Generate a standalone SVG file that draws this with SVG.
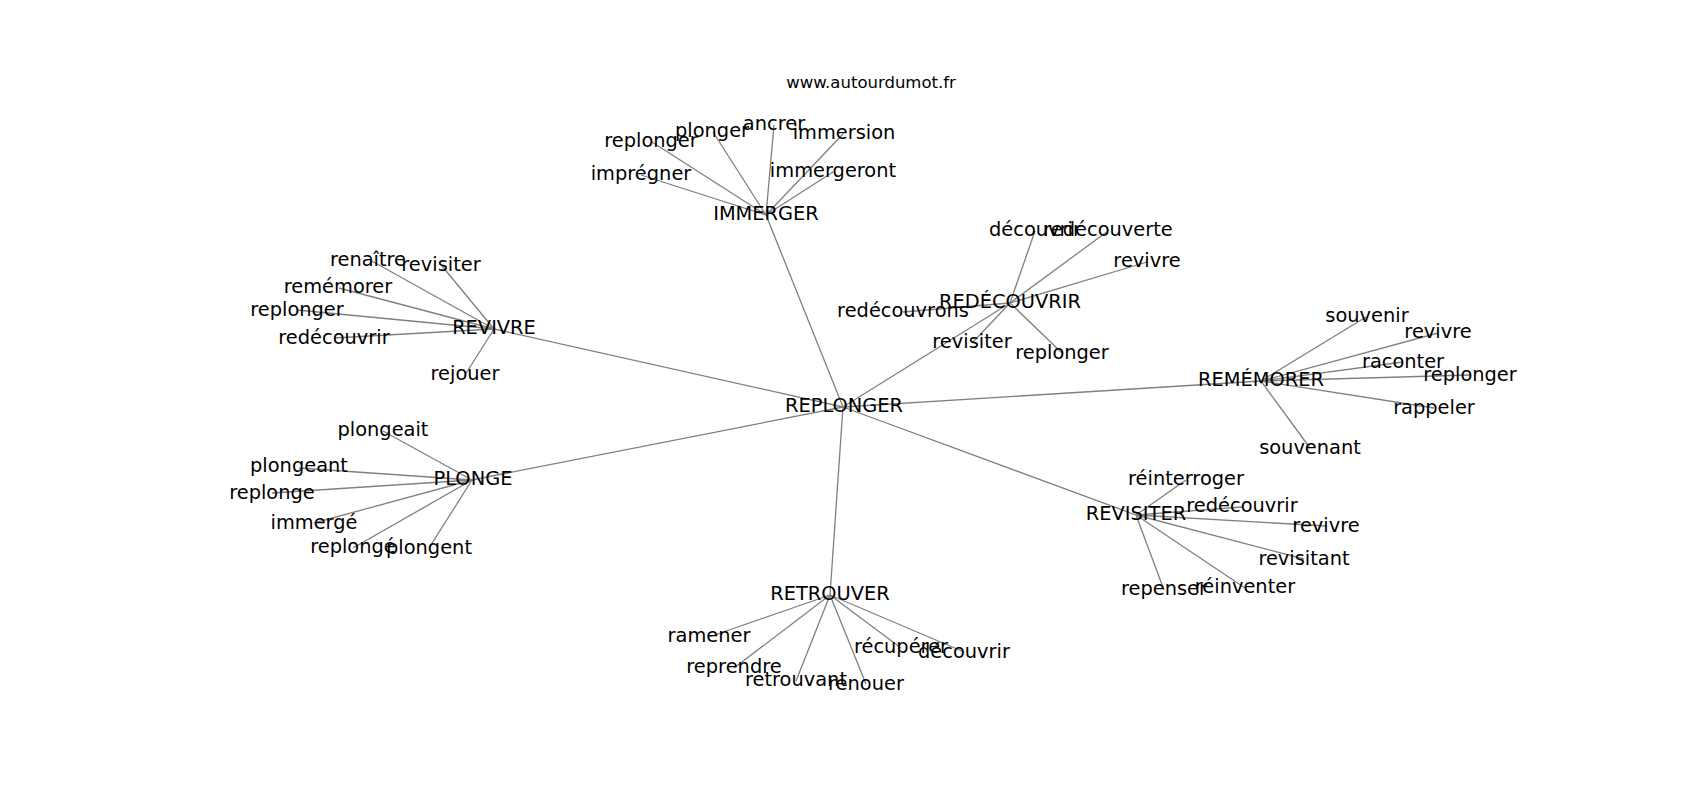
<svg xmlns="http://www.w3.org/2000/svg" width="1700" height="800" viewBox="0 0 1700 800">
<style>
.bg{fill:#ffffff}
.e line{stroke:#808080;stroke-width:1.3}
text{font-family:"DejaVu Sans","Liberation Sans",sans-serif;font-size:19.4px;fill:#000;text-anchor:middle}
.t{font-size:16.5px}
</style>
<rect class="bg" width="1700" height="800"/>
<g id="connectors" class="e">
<line x1="843" y1="407" x2="766" y2="215"/>
<line x1="843" y1="407" x2="494" y2="329"/>
<line x1="843" y1="407" x2="1010" y2="303"/>
<line x1="843" y1="407" x2="1261" y2="381"/>
<line x1="843" y1="407" x2="1136" y2="515"/>
<line x1="843" y1="407" x2="830" y2="595"/>
<line x1="843" y1="407" x2="472" y2="480"/>
<line x1="766" y1="215" x2="652" y2="142"/>
<line x1="766" y1="215" x2="713" y2="132"/>
<line x1="766" y1="215" x2="774" y2="125"/>
<line x1="766" y1="215" x2="843" y2="134"/>
<line x1="766" y1="215" x2="641" y2="175"/>
<line x1="766" y1="215" x2="833" y2="172"/>
<line x1="494" y1="329" x2="370" y2="260"/>
<line x1="494" y1="329" x2="442" y2="266"/>
<line x1="494" y1="329" x2="339" y2="288"/>
<line x1="494" y1="329" x2="297" y2="310"/>
<line x1="494" y1="329" x2="334" y2="338"/>
<line x1="494" y1="329" x2="465" y2="375"/>
<line x1="1010" y1="303" x2="1035" y2="231"/>
<line x1="1010" y1="303" x2="1108" y2="231"/>
<line x1="1010" y1="303" x2="1147" y2="262"/>
<line x1="1010" y1="303" x2="903" y2="312"/>
<line x1="1010" y1="303" x2="972" y2="343"/>
<line x1="1010" y1="303" x2="1062" y2="353"/>
<line x1="1261" y1="381" x2="1366" y2="317"/>
<line x1="1261" y1="381" x2="1438" y2="333"/>
<line x1="1261" y1="381" x2="1403" y2="362"/>
<line x1="1261" y1="381" x2="1470" y2="375"/>
<line x1="1261" y1="381" x2="1434" y2="408"/>
<line x1="1261" y1="381" x2="1310" y2="448"/>
<line x1="1136" y1="515" x2="1186" y2="480"/>
<line x1="1136" y1="515" x2="1242" y2="507"/>
<line x1="1136" y1="515" x2="1326" y2="526"/>
<line x1="1136" y1="515" x2="1304" y2="559"/>
<line x1="1136" y1="515" x2="1164" y2="590"/>
<line x1="1136" y1="515" x2="1245" y2="588"/>
<line x1="830" y1="595" x2="709" y2="637"/>
<line x1="830" y1="595" x2="734" y2="668"/>
<line x1="830" y1="595" x2="796" y2="681"/>
<line x1="830" y1="595" x2="866" y2="684"/>
<line x1="830" y1="595" x2="901" y2="648"/>
<line x1="830" y1="595" x2="964" y2="652"/>
<line x1="472" y1="480" x2="383" y2="431"/>
<line x1="472" y1="480" x2="299" y2="468"/>
<line x1="472" y1="480" x2="272" y2="493"/>
<line x1="472" y1="480" x2="314" y2="523"/>
<line x1="472" y1="480" x2="353" y2="548"/>
<line x1="472" y1="480" x2="429" y2="548"/>
</g>
<g id="title"><text class="t" x="871" y="88">www.autourdumot.fr</text></g>
<g id="n-replonger"><text x="844" y="412">REPLONGER</text></g>
<g id="n-immerger"><text x="766" y="220">IMMERGER</text></g>
<g id="n-revivre"><text x="494" y="334">REVIVRE</text></g>
<g id="n-redecouvrir"><text x="1010" y="308">REDÉCOUVRIR</text></g>
<g id="n-rememorer"><text x="1261" y="386">REMÉMORER</text></g>
<g id="n-revisiter"><text x="1136" y="520">REVISITER</text></g>
<g id="n-retrouver"><text x="830" y="600">RETROUVER</text></g>
<g id="n-plonge"><text x="473" y="485">PLONGE</text></g>
<g id="n-i-replonger"><text x="651" y="147">replonger</text></g>
<g id="n-i-plonger"><text x="712" y="137">plonger</text></g>
<g id="n-i-ancrer"><text x="774" y="130">ancrer</text></g>
<g id="n-i-immersion"><text x="844" y="139">immersion</text></g>
<g id="n-i-impregner"><text x="641" y="180">imprégner</text></g>
<g id="n-i-immergeront"><text x="833" y="177">immergeront</text></g>
<g id="n-v-renaitre"><text x="368" y="266">renaître</text></g>
<g id="n-v-revisiter"><text x="441" y="271">revisiter</text></g>
<g id="n-v-rememorer"><text x="338" y="293">remémorer</text></g>
<g id="n-v-replonger"><text x="297" y="316">replonger</text></g>
<g id="n-v-redecouvrir"><text x="334" y="344">redécouvrir</text></g>
<g id="n-v-rejouer"><text x="465" y="380">rejouer</text></g>
<g id="n-r-decouvrir"><text x="1035" y="236">découvrir</text></g>
<g id="n-r-redecouverte"><text x="1108" y="236">redécouverte</text></g>
<g id="n-r-revivre"><text x="1147" y="267">revivre</text></g>
<g id="n-r-redecouvrons"><text x="903" y="317">redécouvrons</text></g>
<g id="n-r-revisiter"><text x="972" y="348">revisiter</text></g>
<g id="n-r-replonger"><text x="1062" y="359">replonger</text></g>
<g id="n-m-souvenir"><text x="1367" y="322">souvenir</text></g>
<g id="n-m-revivre"><text x="1438" y="338">revivre</text></g>
<g id="n-m-raconter"><text x="1403" y="368">raconter</text></g>
<g id="n-m-replonger"><text x="1470" y="381">replonger</text></g>
<g id="n-m-rappeler"><text x="1434" y="414">rappeler</text></g>
<g id="n-m-souvenant"><text x="1310" y="454">souvenant</text></g>
<g id="n-s-reinterroger"><text x="1186" y="485">réinterroger</text></g>
<g id="n-s-redecouvrir"><text x="1242" y="512">redécouvrir</text></g>
<g id="n-s-revivre"><text x="1326" y="532">revivre</text></g>
<g id="n-s-revisitant"><text x="1304" y="565">revisitant</text></g>
<g id="n-s-repenser"><text x="1164" y="595">repenser</text></g>
<g id="n-s-reinventer"><text x="1245" y="593">réinventer</text></g>
<g id="n-t-ramener"><text x="709" y="642">ramener</text></g>
<g id="n-t-reprendre"><text x="734" y="673">reprendre</text></g>
<g id="n-t-retrouvant"><text x="796" y="686">retrouvant</text></g>
<g id="n-t-renouer"><text x="866" y="690">renouer</text></g>
<g id="n-t-recuperer"><text x="901" y="653">récupérer</text></g>
<g id="n-t-decouvrir"><text x="964" y="658">découvrir</text></g>
<g id="n-p-plongeait"><text x="383" y="436">plongeait</text></g>
<g id="n-p-plongeant"><text x="299" y="472">plongeant</text></g>
<g id="n-p-replonge"><text x="272" y="499">replonge</text></g>
<g id="n-p-immerge"><text x="314" y="529">immergé</text></g>
<g id="n-p-replonge2"><text x="353" y="553">replongé</text></g>
<g id="n-p-plongent"><text x="429" y="554">plongent</text></g>
</svg>
